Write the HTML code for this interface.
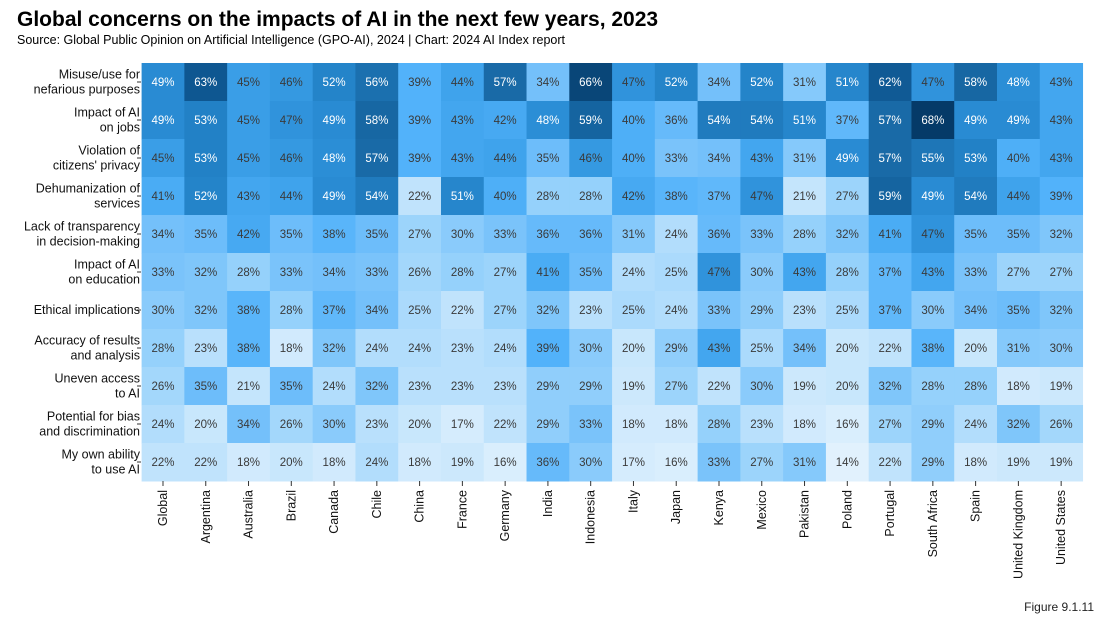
<!DOCTYPE html>
<html><head><meta charset="utf-8"><style>
body{margin:0;background:#fff;width:1101px;height:624px;overflow:hidden;font-family:"Liberation Sans",sans-serif}
</style></head><body>
<svg id="c" width="1101" height="624">
<text x="17" y="26" font-size="21" font-weight="bold" fill="#000">Global concerns on the impacts of AI in the next few years, 2023</text>
<text x="17" y="44" font-size="12.5" fill="#000">Source: Global Public Opinion on Artificial Intelligence (GPO-AI), 2024 | Chart: 2024 AI Index report</text>
<text x="1094" y="611" font-size="12" text-anchor="end" fill="#222">Figure 9.1.11</text>
<g id="cells"></g>
</svg>
<script>
const rows=["Misuse/use for|nefarious purposes","Impact of AI|on jobs","Violation of|citizens' privacy","Dehumanization of|services","Lack of transparency|in decision-making","Impact of AI|on education","Ethical implications","Accuracy of results|and analysis","Uneven access|to AI","Potential for bias|and discrimination","My own ability|to use AI"];
const cols=["Global","Argentina","Australia","Brazil","Canada","Chile","China","France","Germany","India","Indonesia","Italy","Japan","Kenya","Mexico","Pakistan","Poland","Portugal","South Africa","Spain","United Kingdom","United States"];
const values=[
[49,63,45,46,52,56,39,44,57,34,66,47,52,34,52,31,51,62,47,58,48,43],
[49,53,45,47,49,58,39,43,42,48,59,40,36,54,54,51,37,57,68,49,49,43],
[45,53,45,46,48,57,39,43,44,35,46,40,33,34,43,31,49,57,55,53,40,43],
[41,52,43,44,49,54,22,51,40,28,28,42,38,37,47,21,27,59,49,54,44,39],
[34,35,42,35,38,35,27,30,33,36,36,31,24,36,33,28,32,41,47,35,35,32],
[33,32,28,33,34,33,26,28,27,41,35,24,25,47,30,43,28,37,43,33,27,27],
[30,32,38,28,37,34,25,22,27,32,23,25,24,33,29,23,25,37,30,34,35,32],
[28,23,38,18,32,24,24,23,24,39,30,20,29,43,25,34,20,22,38,20,31,30],
[26,35,21,35,24,32,23,23,23,29,29,19,27,22,30,19,20,32,28,28,18,19],
[24,20,34,26,30,23,20,17,22,29,33,18,18,28,23,18,16,27,29,24,32,26],
[22,22,18,20,18,24,18,19,16,36,30,17,16,33,27,31,14,22,29,18,19,19]];
const X0=141.6,CW=42.77,Y0=63,RH=38;
const stops=[[14,[225,241,253]],[22,[192,227,252]],[28,[149,209,251]],[34,[116,192,250]],[39,[82,178,250]],[44,[63,163,236]],[48,[43,142,214]],[53,[34,129,198]],[57,[25,106,167]],[63,[14,87,145]],[68,[5,58,104]]];
function color(v){for(let i=0;i<stops.length-1;i++){const[a,ca]=stops[i],[b,cb]=stops[i+1];if(v<=b||i==stops.length-2){let t=Math.max(0,Math.min(1,(v-a)/(b-a)));return`rgb(${ca.map((c,k)=>Math.round(c+(cb[k]-c)*t)).join(',')})`;}}}
const NS="http://www.w3.org/2000/svg",g=document.getElementById('cells');
function mk(t,a,txt){const e=document.createElementNS(NS,t);for(const k in a)e.setAttribute(k,a[k]);if(txt!=null)e.textContent=txt;g.appendChild(e);return e;}
values.forEach((r,i)=>r.forEach((v,j)=>{
const rc=mk('rect',{x:X0+j*CW,y:Y0+i*RH,width:CW+0.5,height:RH+0.5,fill:color(v)});


const t=mk('text',{x:X0+j*CW+CW/2,y:Y0+i*RH+RH/2+4,'font-size':11.5,'text-anchor':'middle',fill:v>=48?'#fff':'#3a3a3a'},v+'%');


}));
rows.forEach((r,i)=>{const p=r.split('|');const cy=Y0+i*RH+RH/2;
p.forEach((s,k)=>{const t=mk('text',{x:140,y:cy+4+(k-(p.length-1)/2)*15,'font-size':12.5,'text-anchor':'end',fill:'#111'},s);

});
const tk=mk('line',{x1:137,x2:141,y1:cy,y2:cy,stroke:'#333'});

});
cols.forEach((c,j)=>{const cx=X0+j*CW+CW/2;
const tk=mk('line',{x1:cx,x2:cx,y1:481,y2:486,stroke:'#333'});


const t=mk('text',{x:0,y:0,'font-size':12.5,'text-anchor':'end',fill:'#111',transform:`translate(${cx+4},490) rotate(-90)`},c);

});
</script>
</body></html>
